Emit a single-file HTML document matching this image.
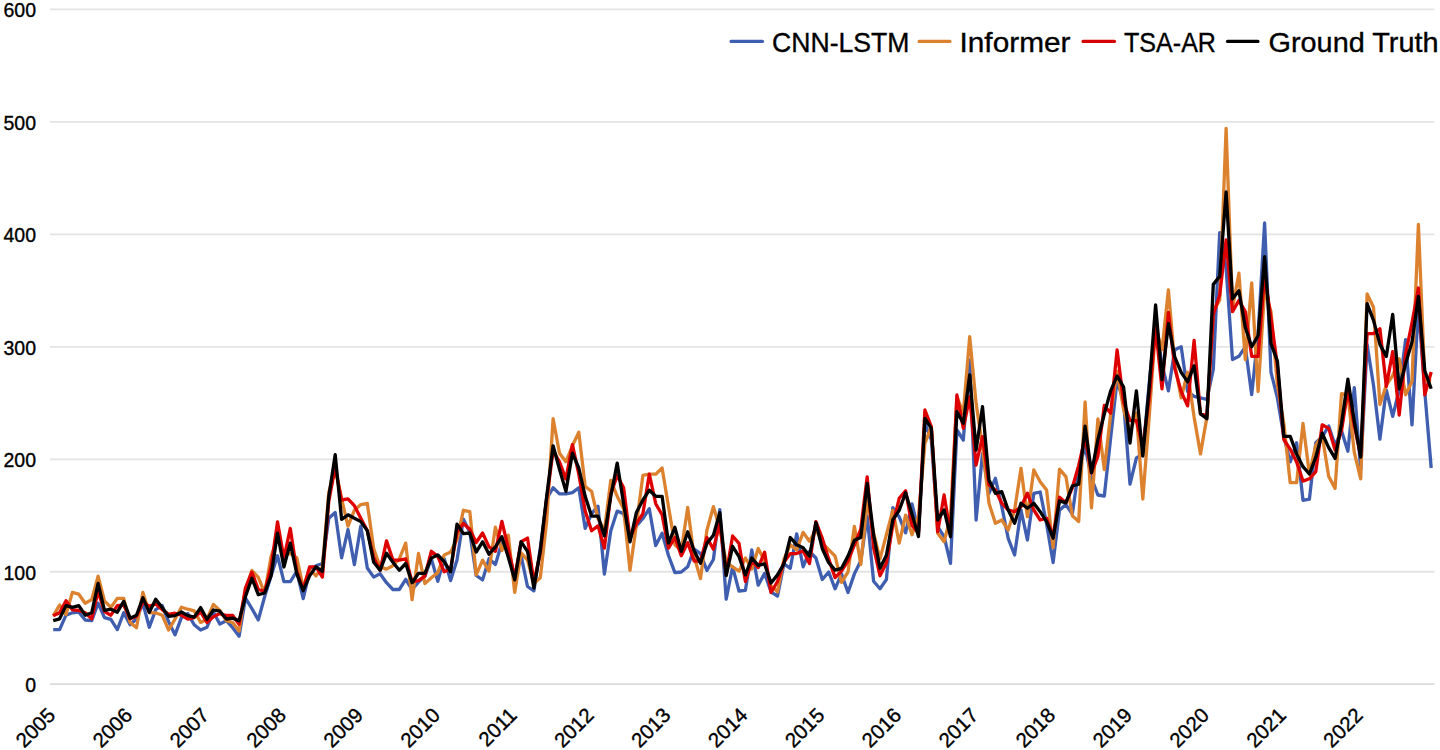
<!DOCTYPE html>
<html><head><meta charset="utf-8"><style>
html,body{margin:0;padding:0;background:#fff;}
body{width:1440px;height:750px;overflow:hidden;}
svg{display:block;}
text{font-family:"Liberation Sans",sans-serif;fill:#000;stroke:#000;stroke-width:0.35px;}
</style></head><body>
<svg width="1440" height="750" viewBox="0 0 1440 750">
<g stroke="#e4e4e4" stroke-width="1.8">
<line x1="50" y1="684.20" x2="1434.4" y2="684.20" stroke="#dadada"/>
<line x1="50" y1="571.74" x2="1434.4" y2="571.74"/>
<line x1="50" y1="459.28" x2="1434.4" y2="459.28"/>
<line x1="50" y1="346.82" x2="1434.4" y2="346.82"/>
<line x1="50" y1="234.36" x2="1434.4" y2="234.36"/>
<line x1="50" y1="121.90" x2="1434.4" y2="121.90"/>
<line x1="50" y1="9.44" x2="1434.4" y2="9.44"/>
</g>
<g font-size="19.5" text-anchor="end">
<text x="36" y="692.0">0</text>
<text x="36" y="579.5">100</text>
<text x="36" y="467.1">200</text>
<text x="36" y="354.6">300</text>
<text x="36" y="242.2">400</text>
<text x="36" y="129.7">500</text>
<text x="36" y="17.2">600</text>
</g>
<g font-size="20.5" text-anchor="end">
<text transform="translate(56.6,716.5) rotate(-45)">2005</text>
<text transform="translate(133.5,716.5) rotate(-45)">2006</text>
<text transform="translate(210.4,716.5) rotate(-45)">2007</text>
<text transform="translate(287.3,716.5) rotate(-45)">2008</text>
<text transform="translate(364.2,716.5) rotate(-45)">2009</text>
<text transform="translate(441.2,716.5) rotate(-45)">2010</text>
<text transform="translate(518.1,716.5) rotate(-45)">2011</text>
<text transform="translate(595.0,716.5) rotate(-45)">2012</text>
<text transform="translate(671.9,716.5) rotate(-45)">2013</text>
<text transform="translate(748.8,716.5) rotate(-45)">2014</text>
<text transform="translate(825.7,716.5) rotate(-45)">2015</text>
<text transform="translate(902.6,716.5) rotate(-45)">2016</text>
<text transform="translate(979.5,716.5) rotate(-45)">2017</text>
<text transform="translate(1056.5,716.5) rotate(-45)">2018</text>
<text transform="translate(1133.4,716.5) rotate(-45)">2019</text>
<text transform="translate(1210.3,716.5) rotate(-45)">2020</text>
<text transform="translate(1287.2,716.5) rotate(-45)">2021</text>
<text transform="translate(1364.1,716.5) rotate(-45)">2022</text>
</g>
<g fill="none" stroke-width="3.3" stroke-linejoin="round" stroke-linecap="butt">
<polyline stroke="#3F5EAF" points="53.2,629.6 59.6,629.6 66.0,615.2 72.4,612.8 78.8,612.2 85.2,620.0 91.7,620.6 98.1,603.2 104.5,617.6 110.9,619.4 117.3,629.6 123.7,612.8 130.1,624.8 136.5,618.8 142.9,603.2 149.3,627.2 155.7,609.6 162.2,605.6 168.6,621.6 175.0,634.8 181.4,617.6 187.8,613.6 194.2,624.8 200.6,630.0 207.0,627.2 213.4,612.0 219.8,624.0 226.3,620.7 232.7,627.7 239.1,636.3 245.5,598.2 251.9,608.6 258.3,619.9 264.7,596.5 271.1,575.7 277.5,555.7 283.9,581.7 290.3,581.6 296.8,571.4 303.2,598.6 309.6,571.4 316.0,565.7 322.4,563.5 328.8,518.2 335.2,512.5 341.6,557.8 348.0,529.5 354.4,564.6 360.8,526.1 367.3,568.0 373.7,577.1 380.1,573.7 386.5,582.7 392.9,589.5 399.3,589.5 405.7,579.3 412.1,589.5 418.5,582.1 424.9,576.2 431.3,558.6 437.8,581.4 444.2,558.6 450.6,580.6 457.0,560.1 463.4,519.1 469.8,532.3 476.2,575.5 482.6,579.9 489.0,558.6 495.4,564.5 501.9,542.5 508.3,548.4 514.7,579.2 521.1,555.7 527.5,586.5 533.9,590.9 540.3,548.1 546.7,498.8 553.1,487.7 559.5,493.9 565.9,493.9 572.4,492.6 578.8,487.7 585.2,528.4 591.6,513.6 598.0,506.2 604.4,574.0 610.8,530.8 617.2,511.1 623.6,513.6 630.0,538.2 636.4,525.9 642.9,518.5 649.3,508.7 655.7,545.6 662.1,533.3 668.5,555.5 674.9,572.7 681.3,572.0 687.7,566.8 694.1,549.2 700.5,553.6 706.9,570.5 713.4,559.5 719.8,509.7 726.2,599.1 732.6,566.8 739.0,591.0 745.4,590.3 751.8,550.0 758.2,585.2 764.6,573.4 771.0,591.8 777.5,596.2 783.9,563.9 790.3,568.3 796.7,533.9 803.1,566.8 809.5,551.5 815.9,558.0 822.3,579.5 828.7,572.0 835.1,588.8 841.5,573.9 848.0,592.5 854.4,573.9 860.8,560.8 867.2,516.0 873.6,581.3 880.0,588.8 886.4,579.5 892.8,507.6 899.2,516.9 905.6,532.8 912.0,503.9 918.5,530.9 924.9,423.3 931.3,440.0 937.7,526.7 944.1,536.7 950.5,563.3 956.9,430.0 963.3,440.0 969.7,360.0 976.1,520.0 982.5,453.3 989.0,493.3 995.4,478.3 1001.8,506.7 1008.2,538.3 1014.6,555.0 1021.0,510.0 1027.4,540.0 1033.8,493.3 1040.2,492.0 1046.6,524.0 1053.1,562.5 1059.5,510.2 1065.9,504.6 1072.3,514.0 1078.7,469.2 1085.1,446.8 1091.5,478.0 1097.9,495.0 1104.3,496.0 1110.7,437.5 1117.1,380.0 1123.6,402.0 1130.0,484.1 1136.4,458.0 1142.8,454.2 1149.2,383.3 1155.6,319.9 1162.0,364.7 1168.4,390.8 1174.8,349.7 1181.2,346.8 1187.6,391.5 1194.1,396.3 1200.5,397.9 1206.9,399.5 1213.3,369.1 1219.7,232.7 1226.1,268.0 1232.5,359.5 1238.9,356.3 1245.3,346.8 1251.7,394.7 1258.1,334.0 1264.6,223.0 1271.0,372.3 1277.4,397.9 1283.8,436.3 1290.2,461.9 1296.6,442.7 1303.0,500.3 1309.4,499.2 1315.8,442.8 1322.2,436.8 1328.7,426.0 1335.1,445.2 1341.5,430.8 1347.9,451.2 1354.3,387.6 1360.7,470.0 1367.1,344.4 1373.5,385.2 1379.9,439.2 1386.3,390.0 1392.7,416.4 1399.2,390.0 1405.6,339.6 1412.0,424.8 1418.4,306.0 1424.8,392.0 1431.2,468.0"/>
<polyline stroke="#DC822F" points="53.2,615.8 59.6,605.0 66.0,614.6 72.4,592.4 78.8,594.2 85.2,603.2 91.7,599.6 98.1,576.2 104.5,600.8 110.9,607.4 117.3,598.4 123.7,598.4 130.1,622.4 136.5,627.8 142.9,592.4 149.3,612.8 155.7,612.8 162.2,615.2 168.6,630.0 175.0,619.2 181.4,607.2 187.8,609.2 194.2,610.8 200.6,622.4 207.0,619.2 213.4,604.4 219.8,610.4 226.3,620.7 232.7,622.5 239.1,631.1 245.5,589.5 251.9,570.5 258.3,577.4 264.7,593.0 271.1,556.6 277.5,537.5 283.9,554.9 290.3,553.3 296.8,557.8 303.2,587.3 309.6,569.1 316.0,575.9 322.4,566.9 328.8,492.1 335.2,469.5 341.6,498.9 348.0,526.1 354.4,510.2 360.8,504.6 367.3,503.4 373.7,548.7 380.1,566.9 386.5,569.1 392.9,565.7 399.3,558.9 405.7,543.1 412.1,599.7 418.5,553.5 424.9,583.6 431.3,577.7 437.8,572.6 444.2,555.0 450.6,552.0 457.0,539.6 463.4,510.3 469.8,511.7 476.2,574.8 482.6,560.1 489.0,571.1 495.4,527.1 501.9,550.6 508.3,535.2 514.7,592.4 521.1,552.8 527.5,560.1 533.9,583.6 540.3,577.7 546.7,521.0 553.1,418.7 559.5,453.2 565.9,461.8 572.4,445.8 578.8,432.3 585.2,486.5 591.6,491.4 598.0,518.5 604.4,530.8 610.8,480.3 617.2,496.3 623.6,508.7 630.0,570.3 636.4,524.7 642.9,475.4 649.3,474.2 655.7,474.2 662.1,468.0 668.5,506.7 674.9,544.8 681.3,550.7 687.7,507.5 694.1,556.6 700.5,578.6 706.9,530.2 713.4,506.7 719.8,528.7 726.2,562.4 732.6,566.8 739.0,571.2 745.4,558.0 751.8,569.0 758.2,548.5 764.6,561.0 771.0,585.9 777.5,591.8 783.9,559.5 790.3,544.8 796.7,550.0 803.1,532.4 809.5,541.2 815.9,529.1 822.3,543.1 828.7,549.6 835.1,556.1 841.5,582.3 848.0,572.0 854.4,526.3 860.8,564.5 867.2,501.1 873.6,532.8 880.0,558.9 886.4,534.7 892.8,510.4 899.2,543.1 905.6,515.1 912.0,534.7 918.5,516.0 924.9,443.3 931.3,426.7 937.7,533.3 944.1,541.7 950.5,516.7 956.9,396.7 963.3,413.3 969.7,336.7 976.1,403.3 982.5,446.7 989.0,503.3 995.4,523.3 1001.8,520.0 1008.2,530.0 1014.6,510.0 1021.0,468.3 1027.4,516.7 1033.8,470.0 1040.2,481.7 1046.6,490.0 1053.1,547.6 1059.5,469.2 1065.9,476.6 1072.3,515.8 1078.7,521.4 1085.1,402.0 1091.5,507.9 1097.9,418.8 1104.3,469.5 1110.7,414.0 1117.1,371.3 1123.6,409.4 1130.0,431.8 1136.4,413.2 1142.8,499.0 1149.2,416.9 1155.6,327.3 1162.0,349.7 1168.4,290.0 1174.8,364.7 1181.2,397.9 1187.6,372.3 1194.1,417.1 1200.5,453.9 1206.9,417.1 1213.3,311.6 1219.7,300.0 1226.1,128.4 1232.5,308.0 1238.9,273.2 1245.3,359.5 1251.7,282.8 1258.1,391.5 1264.6,290.0 1271.0,311.6 1277.4,385.1 1283.8,423.5 1290.2,482.7 1296.6,482.7 1303.0,423.5 1309.4,474.0 1315.8,445.2 1322.2,435.6 1328.7,476.4 1335.1,488.4 1341.5,393.6 1347.9,394.8 1354.3,452.4 1360.7,478.8 1367.1,294.0 1373.5,307.2 1379.9,404.4 1386.3,385.2 1392.7,375.6 1399.2,358.8 1405.6,394.8 1412.0,381.6 1418.4,224.4 1424.8,380.0 1431.2,381.0"/>
<polyline stroke="#DE0000" points="53.2,615.8 59.6,612.8 66.0,600.8 72.4,609.8 78.8,610.4 85.2,612.8 91.7,618.8 98.1,591.2 104.5,611.6 110.9,615.2 117.3,605.6 123.7,605.0 130.1,618.8 136.5,616.4 142.9,602.0 149.3,606.4 155.7,604.0 162.2,609.6 168.6,614.4 175.0,613.2 181.4,615.2 187.8,619.2 194.2,617.6 200.6,612.0 207.0,622.4 213.4,616.8 219.8,613.6 226.3,615.5 232.7,615.5 239.1,624.2 245.5,587.8 251.9,572.2 258.3,589.5 264.7,591.3 271.1,567.0 277.5,521.9 283.9,558.3 290.3,528.4 296.8,571.4 303.2,589.5 309.6,566.9 316.0,566.9 322.4,577.1 328.8,501.2 335.2,467.2 341.6,500.0 348.0,498.9 354.4,505.7 360.8,518.2 367.3,530.6 373.7,557.8 380.1,570.3 386.5,540.8 392.9,560.1 399.3,560.1 405.7,558.9 412.1,581.6 418.5,580.6 424.9,576.2 431.3,551.3 437.8,556.4 444.2,571.8 450.6,568.9 457.0,532.3 463.4,523.5 469.8,529.3 476.2,542.5 482.6,533.0 489.0,546.9 495.4,551.3 501.9,521.3 508.3,548.4 514.7,577.7 521.1,541.8 527.5,538.1 533.9,582.1 540.3,553.0 546.7,498.8 553.1,450.7 559.5,461.8 565.9,479.1 572.4,444.6 578.8,474.2 585.2,511.1 591.6,530.8 598.0,525.9 604.4,548.1 610.8,493.9 617.2,475.4 623.6,487.7 630.0,538.2 636.4,523.5 642.9,513.6 649.3,474.2 655.7,503.7 662.1,514.8 668.5,548.1 674.9,537.5 681.3,555.8 687.7,542.6 694.1,561.0 700.5,561.0 706.9,537.5 713.4,549.2 719.8,522.9 726.2,574.2 732.6,536.0 739.0,543.4 745.4,581.5 751.8,561.0 758.2,567.6 764.6,552.2 771.0,592.5 777.5,581.5 783.9,562.4 790.3,553.6 796.7,553.6 803.1,550.7 809.5,563.6 815.9,521.6 822.3,538.4 828.7,558.9 835.1,577.6 841.5,571.1 848.0,560.8 854.4,544.9 860.8,529.1 867.2,476.8 873.6,547.7 880.0,575.7 886.4,562.7 892.8,525.3 899.2,498.3 905.6,490.8 912.0,525.3 918.5,532.8 924.9,410.0 931.3,426.7 937.7,531.7 944.1,495.0 950.5,533.3 956.9,395.0 963.3,428.3 969.7,396.7 976.1,465.0 982.5,436.7 989.0,485.0 995.4,490.0 1001.8,503.3 1008.2,510.0 1014.6,511.7 1021.0,506.7 1027.4,493.3 1033.8,510.0 1040.2,520.0 1046.6,518.3 1053.1,536.4 1059.5,497.2 1065.9,502.8 1072.3,487.8 1078.7,465.4 1085.1,437.4 1091.5,472.9 1097.9,456.1 1104.3,405.5 1110.7,413.2 1117.1,350.0 1123.6,402.0 1130.0,420.6 1136.4,420.6 1142.8,446.8 1149.2,398.2 1155.6,327.3 1162.0,388.9 1168.4,312.4 1174.8,368.4 1181.2,391.5 1187.6,405.9 1194.1,340.4 1200.5,413.9 1206.9,415.5 1213.3,314.8 1219.7,295.0 1226.1,240.0 1232.5,311.6 1238.9,300.4 1245.3,311.6 1251.7,356.3 1258.1,356.3 1264.6,275.0 1271.0,318.0 1277.4,365.9 1283.8,439.5 1290.2,449.1 1296.6,461.9 1303.0,481.1 1309.4,478.8 1315.8,471.6 1322.2,424.8 1328.7,428.4 1335.1,450.0 1341.5,430.8 1347.9,390.0 1354.3,426.0 1360.7,456.0 1367.1,333.6 1373.5,333.6 1379.9,328.8 1386.3,386.4 1392.7,351.6 1399.2,415.2 1405.6,354.0 1412.0,322.8 1418.4,288.0 1424.8,394.8 1431.2,372.0"/>
<polyline stroke="#000000" points="53.2,620.6 59.6,618.8 66.0,605.6 72.4,607.4 78.8,605.6 85.2,615.2 91.7,612.8 98.1,583.4 104.5,610.4 110.9,609.2 117.3,612.2 123.7,601.4 130.1,618.2 136.5,615.2 142.9,597.8 149.3,612.4 155.7,599.2 162.2,607.6 168.6,616.4 175.0,615.6 181.4,612.0 187.8,615.6 194.2,617.2 200.6,607.6 207.0,619.2 213.4,610.0 219.8,611.2 226.3,619.0 232.7,618.1 239.1,620.7 245.5,596.5 251.9,578.3 258.3,594.7 264.7,593.0 271.1,575.7 277.5,533.2 283.9,567.0 290.3,543.1 296.8,573.7 303.2,590.7 309.6,575.9 316.0,566.9 322.4,571.4 328.8,496.6 335.2,454.7 341.6,519.3 348.0,514.8 354.4,518.2 360.8,521.6 367.3,530.6 373.7,562.3 380.1,570.3 386.5,553.3 392.9,562.3 399.3,570.3 405.7,563.5 412.1,582.7 418.5,573.3 424.9,573.3 431.3,557.9 437.8,555.0 444.2,561.6 450.6,571.8 457.0,524.2 463.4,533.7 469.8,533.0 476.2,552.0 482.6,541.8 489.0,554.2 495.4,546.9 501.9,536.7 508.3,557.2 514.7,579.9 521.1,541.8 527.5,551.3 533.9,588.0 540.3,550.6 546.7,496.3 553.1,445.8 559.5,469.2 565.9,491.4 572.4,453.2 578.8,468.0 585.2,496.3 591.6,516.1 598.0,516.1 604.4,535.8 610.8,496.3 617.2,463.1 623.6,503.7 630.0,541.9 636.4,512.4 642.9,500.0 649.3,490.2 655.7,496.3 662.1,496.3 668.5,543.2 674.9,527.3 681.3,551.4 687.7,531.7 694.1,550.7 700.5,563.2 706.9,543.4 713.4,535.3 719.8,512.6 726.2,575.6 732.6,546.3 739.0,556.6 745.4,574.9 751.8,558.0 758.2,565.4 764.6,563.9 771.0,583.0 777.5,574.9 783.9,563.9 790.3,537.5 796.7,544.8 803.1,547.8 809.5,556.1 815.9,522.5 822.3,548.7 828.7,562.7 835.1,570.1 841.5,568.3 848.0,556.1 854.4,540.3 860.8,537.5 867.2,483.3 873.6,534.7 880.0,568.3 886.4,555.2 892.8,519.7 899.2,510.4 905.6,492.7 912.0,514.1 918.5,536.5 924.9,418.3 931.3,428.3 937.7,520.0 944.1,510.0 950.5,536.7 956.9,411.7 963.3,423.3 969.7,375.0 976.1,450.0 982.5,406.7 989.0,480.0 995.4,493.3 1001.8,491.7 1008.2,510.0 1014.6,523.3 1021.0,503.3 1027.4,508.3 1033.8,503.3 1040.2,511.7 1046.6,521.7 1053.1,538.2 1059.5,500.9 1065.9,502.8 1072.3,486.0 1078.7,484.1 1085.1,426.2 1091.5,472.7 1097.9,439.6 1104.3,414.0 1110.7,390.8 1117.1,375.9 1123.6,387.1 1130.0,443.0 1136.4,390.8 1142.8,456.1 1149.2,387.1 1155.6,304.9 1162.0,379.6 1168.4,323.6 1174.8,357.2 1181.2,372.3 1187.6,381.9 1194.1,365.9 1200.5,413.9 1206.9,418.7 1213.3,284.4 1219.7,276.4 1226.1,192.0 1232.5,298.8 1238.9,290.8 1245.3,327.6 1251.7,346.8 1258.1,335.6 1264.6,256.7 1271.0,343.6 1277.4,361.1 1283.8,436.3 1290.2,436.3 1296.6,453.9 1303.0,466.7 1309.4,474.0 1315.8,457.2 1322.2,433.2 1328.7,447.6 1335.1,458.4 1341.5,423.6 1347.9,379.2 1354.3,421.2 1360.7,457.2 1367.1,303.6 1373.5,320.4 1379.9,344.4 1386.3,356.4 1392.7,314.4 1399.2,388.8 1405.6,363.6 1412.0,342.0 1418.4,296.4 1424.8,370.8 1431.2,388.8"/>
</g>
<g stroke-width="3.1" stroke-linecap="round">
<line x1="731" y1="41.4" x2="762.5" y2="41.4" stroke="#3F5EAF"/>
<line x1="919" y1="41.4" x2="950" y2="41.4" stroke="#DC822F"/>
<line x1="1083" y1="41.4" x2="1114.5" y2="41.4" stroke="#D60000"/>
<line x1="1227.5" y1="41.4" x2="1258" y2="41.4" stroke="#000"/>
</g>
<g font-size="28">
<text x="772" y="52" textLength="137.5" lengthAdjust="spacingAndGlyphs">CNN-LSTM</text>
<text x="959.5" y="52" textLength="111" lengthAdjust="spacingAndGlyphs">Informer</text>
<text x="1124" y="52" textLength="92" lengthAdjust="spacingAndGlyphs">TSA-AR</text>
<text x="1268.5" y="52" textLength="170" lengthAdjust="spacingAndGlyphs">Ground Truth</text>
</g>
</svg>
</body></html>
